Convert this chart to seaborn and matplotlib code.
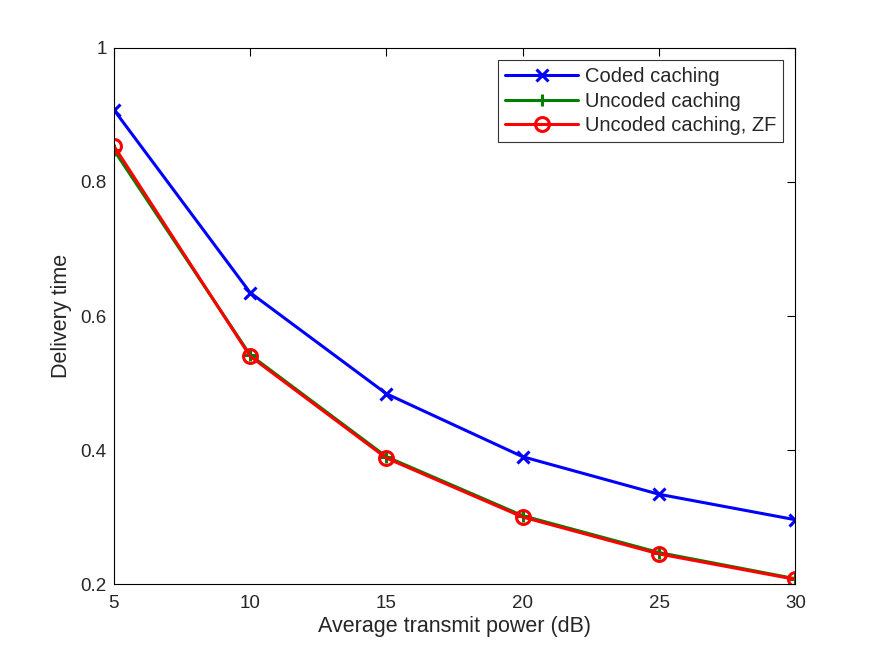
import pandas as pd
import matplotlib
matplotlib.use("Agg")
import matplotlib.pyplot as plt
import seaborn as sns

# data
power_db = [5, 10, 15, 20, 25, 30]
coded = [0.908, 0.635, 0.484, 0.390, 0.334, 0.296]
uncoded = [0.848, 0.542, 0.390, 0.302, 0.247, 0.208]
uncoded_zf = [0.854, 0.540, 0.388, 0.300, 0.245, 0.207]
series_names = ["Coded caching", "Uncoded caching", "Uncoded caching, ZF"]

sns.set_theme(style="white")
plt.rcParams["font.family"] = ["Liberation Sans", "DejaVu Sans"]

fig = plt.figure(figsize=(8.75, 6.57), dpi=100)
ax = fig.add_axes([0.130, 0.111, 0.779, 0.816])

# one call per series, since x/+ and o markers can't be mixed in one lineplot
styles = [
    (coded, "#0000ff", "x", "#0000ff", 8),
    (uncoded, "#008000", "+", "#008000", 9),
    (uncoded_zf, "#ff0000", "o", "none", 10),
]
for (vals, col, mk, face, ms), name in zip(styles, series_names):
    sns.lineplot(x=power_db, y=vals, color=col, marker=mk, linewidth=2.2,
                 markersize=ms, markeredgewidth=2.2, markeredgecolor=col,
                 markerfacecolor=face, label=name, ax=ax)

ax.set_xlim(5, 30)
ax.set_ylim(0.2, 1.0)
ax.set_xticks([5, 10, 15, 20, 25, 30])
ax.set_yticks([0.2, 0.4, 0.6, 0.8, 1.0])
ax.set_yticklabels(["0.2", "0.4", "0.6", "0.8", "1"])
ax.tick_params(axis="both", labelsize=13.5, length=6, width=0.8, color="black",
               top=True, right=True, direction="in", pad=5)
ax.tick_params(axis="x", pad=8)
for spine in ax.spines.values():
    spine.set_color("black")
    spine.set_linewidth(0.8)
ax.set_xlabel("Average transmit power (dB)", fontsize=15.5, labelpad=3)
ax.set_ylabel("Delivery time", fontsize=15.5, labelpad=6)

leg = ax.legend(loc="upper right", fontsize=14.5, frameon=True, fancybox=False,
                edgecolor="black", borderaxespad=0.6, handlelength=3.6,
                labelspacing=0.28, borderpad=0.35, handletextpad=0.35)
leg.get_frame().set_linewidth(0.8)

fig.savefig("out.png", dpi=100)
